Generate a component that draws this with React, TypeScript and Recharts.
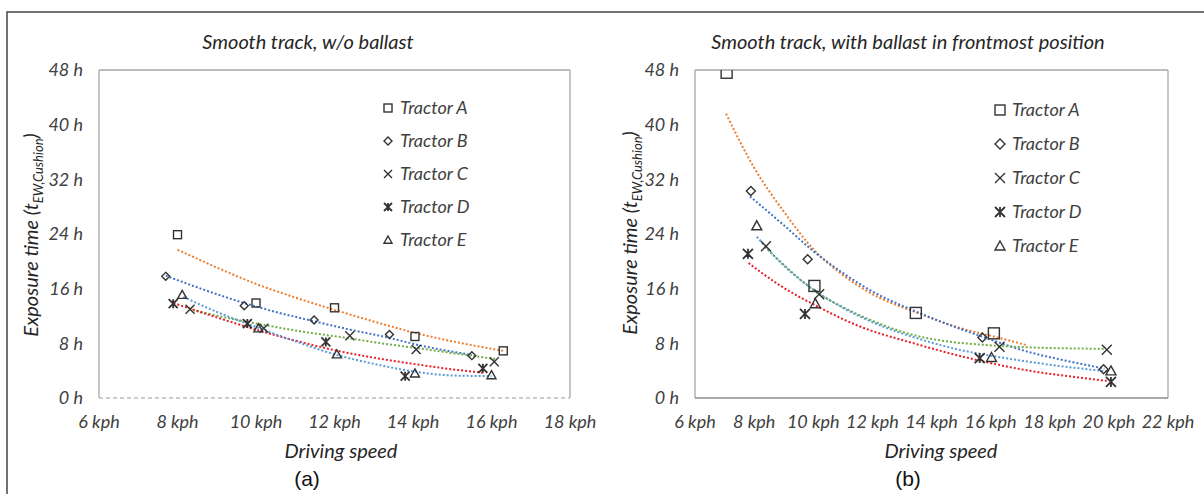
import React from 'react';
import { ComposedChart, Scatter, Line, XAxis, YAxis, ReferenceLine } from 'recharts';

// ---------- labels ----------
const TRACTORS = ['Tractor A', 'Tractor B', 'Tractor C', 'Tractor D', 'Tractor E'];
const LEFT_TITLE = 'Smooth track, w/o ballast';
const RIGHT_TITLE = 'Smooth track, with ballast in frontmost position';
const LEFT_X_TICKS = [6, 8, 10, 12, 14, 16, 18];
const RIGHT_X_TICKS = [6, 8, 10, 12, 14, 16, 18, 20, 22];
const Y_TICKS = [0, 8, 16, 24, 32, 40, 48];

// ---------- (a) measured points ----------
const leftA = [{ x: 8.0, y: 23.9 }, { x: 10.0, y: 13.9 }, { x: 12.0, y: 13.2 }, { x: 14.05, y: 9.0 }, { x: 16.3, y: 6.9 }];
const leftB = [{ x: 7.7, y: 17.8 }, { x: 9.7, y: 13.5 }, { x: 11.48, y: 11.4 }, { x: 13.4, y: 9.3 }, { x: 15.5, y: 6.2 }];
const leftC = [{ x: 8.32, y: 13.0 }, { x: 10.2, y: 10.2 }, { x: 12.39, y: 9.1 }, { x: 14.08, y: 7.1 }, { x: 16.07, y: 5.3 }];
const leftD = [{ x: 7.89, y: 13.8 }, { x: 9.78, y: 10.9 }, { x: 11.78, y: 8.2 }, { x: 13.8, y: 3.2 }, { x: 15.78, y: 4.35 }];
const leftE = [{ x: 8.12, y: 15.1 }, { x: 10.06, y: 10.2 }, { x: 12.06, y: 6.4 }, { x: 14.05, y: 3.6 }, { x: 16.0, y: 3.35 }];

// ---------- (a) trendlines ----------
const leftTrendA = [{ x: 8.0, y: 21.7 }, { x: 9, y: 19.1 }, { x: 10, y: 16.7 }, { x: 11, y: 14.7 }, { x: 12, y: 12.9 }, { x: 13, y: 11.2 }, { x: 14, y: 9.6 }, { x: 15, y: 8.3 }, { x: 16.3, y: 6.9 }];
const leftTrendB = [{ x: 7.7, y: 17.9 }, { x: 8.5, y: 16.2 }, { x: 9.7, y: 13.9 }, { x: 10.5, y: 12.6 }, { x: 11.5, y: 11.2 }, { x: 12.4, y: 10.0 }, { x: 13.4, y: 8.8 }, { x: 14.1, y: 7.8 }, { x: 15.5, y: 6.3 }];
const leftTrendC = [{ x: 8.3, y: 13.0 }, { x: 9.2, y: 11.8 }, { x: 10.2, y: 10.7 }, { x: 11.2, y: 9.7 }, { x: 12.3, y: 8.8 }, { x: 13.2, y: 8.0 }, { x: 14.1, y: 7.3 }, { x: 15.1, y: 6.5 }, { x: 16.1, y: 5.7 }];
const leftTrendD = [{ x: 7.9, y: 13.9 }, { x: 9, y: 11.8 }, { x: 10, y: 10.0 }, { x: 11, y: 8.4 }, { x: 12, y: 7.0 }, { x: 13, y: 5.9 }, { x: 14, y: 5.0 }, { x: 15, y: 4.2 }, { x: 15.8, y: 3.7 }];
const leftTrendE = [{ x: 8.15, y: 14.8 }, { x: 9, y: 12.6 }, { x: 10, y: 10.4 }, { x: 11, y: 8.3 }, { x: 12, y: 6.4 }, { x: 13, y: 5.0 }, { x: 14, y: 3.9 }, { x: 15, y: 3.3 }, { x: 16, y: 3.2 }];

// ---------- (b) measured points ----------
const rightA = [{ x: 7.07, y: 47.6 }, { x: 10.04, y: 16.4 }, { x: 13.47, y: 12.45 }, { x: 16.11, y: 9.46 }];
const rightB = [{ x: 7.89, y: 30.3 }, { x: 9.81, y: 20.3 }, { x: 15.72, y: 8.87 }, { x: 19.82, y: 4.2 }];
const rightC = [{ x: 8.4, y: 22.2 }, { x: 10.2, y: 15.2 }, { x: 16.3, y: 7.5 }, { x: 19.93, y: 7.06 }];
const rightD = [{ x: 7.79, y: 21.1 }, { x: 9.72, y: 12.3 }, { x: 15.63, y: 5.84 }, { x: 20.07, y: 2.35 }];
const rightE = [{ x: 8.09, y: 25.2 }, { x: 10.07, y: 13.8 }, { x: 16.03, y: 5.93 }, { x: 20.07, y: 3.97 }];

// ---------- (b) trendlines ----------
const rightTrendA = [{ x: 7.05, y: 41.6 }, { x: 8, y: 33.7 }, { x: 9, y: 27.3 }, { x: 10, y: 21.8 }, { x: 11, y: 18.0 }, { x: 12, y: 15.2 }, { x: 13.5, y: 12.5 }, { x: 15, y: 10.2 }, { x: 16.1, y: 9.0 }, { x: 17.25, y: 7.7 }];
const rightTrendB = [{ x: 7.86, y: 29.5 }, { x: 9, y: 25.3 }, { x: 10, y: 21.5 }, { x: 11, y: 18.3 }, { x: 12, y: 15.6 }, { x: 13.5, y: 12.6 }, { x: 15.7, y: 9.0 }, { x: 17.4, y: 6.6 }, { x: 18.4, y: 5.6 }, { x: 19.85, y: 4.3 }];
const rightTrendC = [{ x: 8.37, y: 22.1 }, { x: 8.9, y: 19.9 }, { x: 10.1, y: 15.5 }, { x: 11, y: 13.3 }, { x: 12, y: 11.3 }, { x: 13.4, y: 9.2 }, { x: 14.5, y: 8.3 }, { x: 15.7, y: 7.8 }, { x: 17.4, y: 7.4 }, { x: 19.85, y: 7.2 }];
const rightTrendD = [{ x: 7.81, y: 19.75 }, { x: 8.9, y: 16.4 }, { x: 10.1, y: 13.5 }, { x: 11.5, y: 10.6 }, { x: 13.4, y: 8.0 }, { x: 15.7, y: 5.4 }, { x: 17.3, y: 4.0 }, { x: 18.6, y: 3.2 }, { x: 19.95, y: 2.5 }];
const rightTrendE = [{ x: 8.09, y: 23.6 }, { x: 9, y: 19.4 }, { x: 10.1, y: 15.6 }, { x: 11, y: 13.2 }, { x: 12, y: 11.1 }, { x: 13.4, y: 8.9 }, { x: 15, y: 7.0 }, { x: 16, y: 6.2 }, { x: 17.3, y: 5.3 }, { x: 18.5, y: 4.6 }, { x: 19.95, y: 3.9 }];

// ---------- styling ----------
const TREND_COLORS = ['#ED7D31', '#4472C4', '#70AD47', '#E8202A', '#5B9BD5'];
const KINDS = ['square', 'diamond', 'x', 'star', 'triangle'];
const FONT = "Lato, 'Open Sans', sans-serif";
const MARK = '#333333';
const TICK = { fontSize: 18, fontStyle: 'italic', fill: '#404040', fontFamily: FONT };

function Marker({ kind, cx, cy, s }: { kind: string; cx: number; cy: number; s: number }) {
  const h = s / 2;
  const common = { fill: 'none', stroke: MARK, strokeWidth: 1.4 };
  if (cx == null || cy == null || isNaN(cx) || isNaN(cy)) return null;
  switch (kind) {
    case 'square':
      return <rect x={cx - h} y={cy - h} width={s} height={s} {...common} />;
    case 'diamond':
      return <polygon points={`${cx},${cy - h} ${cx + h},${cy} ${cx},${cy + h} ${cx - h},${cy}`} {...common} />;
    case 'x':
      return <path d={`M${cx - h},${cy - h}L${cx + h},${cy + h}M${cx - h},${cy + h}L${cx + h},${cy - h}`} {...common} />;
    case 'star':
      return <path d={`M${cx - h},${cy - h}L${cx + h},${cy + h}M${cx - h},${cy + h}L${cx + h},${cy - h}M${cx},${cy - h}L${cx},${cy + h}`} {...common} strokeWidth={1.8} />;
    default:
      return <polygon points={`${cx},${cy - h} ${cx + h},${cy + h * 0.8} ${cx - h},${cy + h * 0.8}`} {...common} />;
  }
}

type P = { x: number; y: number };

function Panel({
  points, trends, xTicks, xMax, width, left, right, sizes, dashedBottom,
}: {
  points: P[][]; trends: P[][]; xTicks: number[]; xMax: number; width: number; left: number; right: number; sizes: number[]; dashedBottom: boolean;
}) {
  return (
    <ComposedChart width={width} height={494} margin={{ top: 70, right, bottom: 66, left: 0 }}>
      <XAxis
        type="number" dataKey="x" domain={[6, xMax]} ticks={xTicks} allowDataOverflow
        axisLine={false} tickLine={false} tickSize={0} tickMargin={17} height={30}
        tick={TICK} tickFormatter={(v: number) => `${v} kph`} interval={0}
      />
      <YAxis
        type="number" dataKey="y" domain={[0, 48]} ticks={Y_TICKS} allowDataOverflow
        axisLine={false} tickLine={false} tickSize={0} tickMargin={16} width={left}
        tick={TICK} tickFormatter={(v: number) => `${v} h`} interval={0}
      />
      <ReferenceLine x={6} stroke="#A6A6A6" strokeWidth={1.3} />
      <ReferenceLine x={xMax} stroke="#A6A6A6" strokeWidth={1.3} />
      <ReferenceLine y={48} stroke="#A6A6A6" strokeWidth={1.3} />
      <ReferenceLine y={0} stroke={dashedBottom ? '#BDBDBD' : '#8C8C8C'} strokeWidth={1.3} strokeDasharray={dashedBottom ? '4 3' : undefined} />
      {trends.map((t, i) => (
        <Line key={`t${i}`} data={t} dataKey="y" type="monotone" stroke={TREND_COLORS[i]} strokeWidth={2}
          strokeDasharray="2 2" dot={false} activeDot={false} isAnimationActive={false} />
      ))}
      {points.map((d, i) => (
        <Scatter key={`s${i}`} data={d} dataKey="y" isAnimationActive={false}
          shape={(p: any) => <Marker kind={KINDS[i]} cx={p.cx} cy={p.cy} s={sizes[i]} />} />
      ))}
    </ComposedChart>
  );
}

function Legend({ x, y0, step, s }: { x: number; y0: number; step: number; s: number }) {
  return (
    <g>
      {TRACTORS.map((t, i) => (
        <g key={t}>
          <Marker kind={KINDS[i]} cx={x} cy={y0 + i * step} s={s} />
          <text x={x + 12} y={y0 + i * step + 6} fontSize={18} fontStyle="italic" fill="#404040" fontFamily={FONT}>{t}</text>
        </g>
      ))}
    </g>
  );
}

function YLabel({ x, y }: { x: number; y: number }) {
  return (
    <text transform={`translate(${x},${y}) rotate(-90)`} textAnchor="middle" fontSize={20} fontStyle="italic" fill="#262626" fontFamily={FONT}>
      Exposure time (t<tspan fontSize={13} dy={5}>EW,Cushion</tspan><tspan dy={-5}>)</tspan>
    </text>
  );
}

export default function App() {
  return (
    <div style={{ position: 'absolute', left: 0, top: 0, width: 1204, height: 494, background: '#fff', overflow: 'hidden' }}>
      <div style={{ position: 'absolute', left: 0, top: 0 }}>
        <Panel points={[leftA, leftB, leftC, leftD, leftE]} trends={[leftTrendA, leftTrendB, leftTrendC, leftTrendD, leftTrendE]}
          xTicks={LEFT_X_TICKS} xMax={18} width={600} left={99} right={30} sizes={[8, 8, 9, 9, 9]} dashedBottom />
      </div>
      <div style={{ position: 'absolute', left: 600, top: 0 }}>
        <Panel points={[rightA, rightB, rightC, rightD, rightE]} trends={[rightTrendA, rightTrendB, rightTrendC, rightTrendD, rightTrendE]}
          xTicks={RIGHT_X_TICKS} xMax={22} width={604} left={95} right={36} sizes={[11, 9, 10, 10, 10]} dashedBottom={false} />
      </div>
      <svg width={1204} height={494} style={{ position: 'absolute', left: 0, top: 0, pointerEvents: 'none' }}>
        <rect x={7} y={12} width={1400} height={700} fill="none" stroke="#444" strokeWidth={1.5} />
        <text x={308} y={49} textAnchor="middle" fontSize={20} fontStyle="italic" fill="#262626" fontFamily={FONT}>{LEFT_TITLE}</text>
        <text x={908} y={49} textAnchor="middle" fontSize={20} fontStyle="italic" fill="#262626" fontFamily={FONT}>{RIGHT_TITLE}</text>
        <YLabel x={38} y={235} />
        <YLabel x={637} y={233} />
        <text x={341} y={458} textAnchor="middle" fontSize={20} fontStyle="italic" fill="#262626" fontFamily={FONT}>Driving speed</text>
        <text x={941} y={458} textAnchor="middle" fontSize={20} fontStyle="italic" fill="#262626" fontFamily={FONT}>Driving speed</text>
        <text x={307} y={486} textAnchor="middle" fontSize={21} fill="#111" fontFamily="'Liberation Sans', Arial, sans-serif">(a)</text>
        <text x={908} y={486} textAnchor="middle" fontSize={21} fill="#111" fontFamily="'Liberation Sans', Arial, sans-serif">(b)</text>
        <Legend x={388} y0={108} step={33} s={8} />
        <Legend x={1000} y0={110} step={34} s={10} />
      </svg>
    </div>
  );
}
